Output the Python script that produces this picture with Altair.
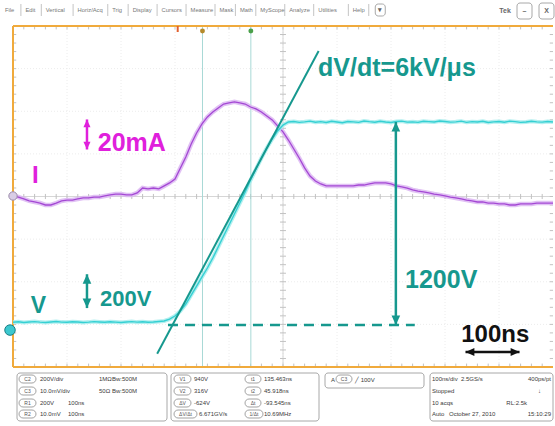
import altair as alt
import pandas as pd

# ----------------------------------------------------------------------
# Waveform record: screen time in ns (100 ns/div, 10 div), one sample / 10 ns
# ----------------------------------------------------------------------
t_ns = list(range(0, 1001, 10))

# drain-source voltage (V)
v_ds = [16, 19, 15, 18, 20, 17, 15, 18, 21, 17,
        16, 19, 18, 15, 17, 20, 18, 16, 19, 17,
        15, 18, 20, 17, 19, 16, 18, 21,
        24, 35, 53, 83, 124, 177, 230, 284, 337, 396,
        461, 526, 591, 656, 721, 786, 857, 922, 987, 1046,
        1099, 1147, 1182, 1200,
        1203, 1198, 1201, 1205, 1199, 1202, 1197, 1204, 1200, 1196,
        1203, 1201, 1198, 1206, 1202, 1199, 1204, 1200, 1197, 1203,
        1205, 1199, 1201, 1198, 1204, 1202, 1200, 1206, 1203, 1199,
        1201, 1205, 1198, 1202, 1200, 1204, 1197, 1201, 1203, 1199,
        1205, 1202, 1198, 1200, 1204, 1201, 1199, 1203, 1200]

# displacement current (mA)
i_d = [0.0, -0.7, -2.0, -3.3, -4.0, -4.7, -6.0, -6.0, -4.7, -3.3,
       -2.7, -2.7, -2.0, -1.3, -1.3, -0.7, -0.7, 0.0, 0.7, 1.3,
       1.3, 0.7, 0.7, 2.0, 5.3, 4.7, 5.3, 4.7, 6.7, 8.7,
       11.3, 18.7, 26.0, 34.7, 42.0, 48.0, 52.7, 56.0, 58.7, 61.3,
       62.0, 62.7, 62.0, 61.3, 59.3, 58.0, 56.0, 53.3, 50.7, 46.7,
       42.7, 37.3, 31.3, 25.3, 18.7, 13.3, 10.0, 8.0, 6.7, 6.7,
       6.7, 6.7, 6.7, 6.7, 7.3, 7.3, 8.0, 8.7, 8.7, 8.7,
       8.0, 6.7, 6.0, 5.3, 4.0, 3.3, 2.7, 2.0, 1.3, 0.7,
       0.0, -0.7, -1.3, -2.0, -2.7, -3.3, -4.0, -4.0, -4.7, -4.7,
       -5.3, -5.3, -6.0, -6.0, -5.3, -5.3, -5.3, -4.7, -4.7, -4.7,
       -4.7]

# trigger and cursor readouts (ns, cursors relative to trigger)
trigger_t = 305.0
cursor_dt = [45.918, 135.463]

# annotation geometry in signal units
slope_t = [267, 566]      # dV/dt guide: 6 V/ns
slope_v = [-170, 1620]
ref0_t = [287, 744]       # 0 V reference, dashed
swing_t = 709             # 1200 V swing
swing_v = [0, 1200]
vscale_t = 137            # 200 V scale bar
vscale_v = [100, 300]
iscale_t = 137            # 20 mA scale bar
iscale_i = [31, 51]
tscale_t = [838, 938]     # 100 ns scale bar
tscale_v = -160

TEAL = "#16988e"
MAGENTA = "#e020dc"
CYAN = "#35d0d3"
PURPLE = "#a448d4"
ORANGE = "#f0aa3c"
FONT = "Liberation Sans"

W, H = 540, 341

x_sc = alt.Scale(domain=[0, 1000], nice=False, zero=False)
d_sc = alt.Scale(domain=[-4, 4], nice=False, zero=False)
v_sc = alt.Scale(domain=[-248.3, 1767.5], nice=False, zero=False)
i_sc = alt.Scale(domain=[-114.0, 113.3], nice=False, zero=False)


def xq(f):
    return alt.X(f, type="quantitative", scale=x_sc, axis=None)


def yq(f, sc):
    return alt.Y(f, type="quantitative", scale=sc, axis=None)


def px(f):
    return alt.X(f, type="quantitative", scale=None, axis=None)


def py(f):
    return alt.Y(f, type="quantitative", scale=None, axis=None)


UP = "M0,0L-0.5,1.1L0.5,1.1Z"
DOWN = "M0,0L-0.5,-1.1L0.5,-1.1Z"
LEFT = "M0,0L1.1,-0.5L1.1,0.5Z"
RIGHT = "M0,0L-1.1,-0.5L-1.1,0.5Z"

# ---------------------------- graticule -------------------------------
g_vert = alt.Chart(pd.DataFrame({"t": [100 * k for k in range(1, 10)]})).mark_rule(
    color="#ececec", strokeWidth=1, strokeDash=[1, 2]).encode(x=xq("t"))
g_horz = alt.Chart(pd.DataFrame({"d": [-3, -2, -1, 1, 2, 3]})).mark_rule(
    color="#ececec", strokeWidth=1, strokeDash=[1, 2]).encode(y=yq("d", d_sc))
g_cx = alt.Chart(pd.DataFrame({"t": [500]})).mark_rule(
    color="#d6d6d6", strokeWidth=1).encode(x=xq("t"))
g_cy = alt.Chart(pd.DataFrame({"d": [0]})).mark_rule(
    color="#d6d6d6", strokeWidth=1).encode(y=yq("d", d_sc))

tick_rows = []
for t in [20 * k for k in range(1, 50)]:
    tick_rows += [(t, t, -0.06, 0.06), (t, t, 3.92, 4.0), (t, t, -4.0, -3.92)]
for d in [round(-4 + 0.2 * k, 1) for k in range(1, 40)]:
    tick_rows += [(494.5, 505.5, d, d), (0, 6, d, d), (994, 1000, d, d)]
ticks = pd.DataFrame(tick_rows, columns=["t0", "t1", "d0", "d1"])
g_ticks = alt.Chart(ticks).mark_rule(color="#c2c2c2", strokeWidth=1).encode(
    x=xq("t0"), x2="t1", y=yq("d0", d_sc), y2="d1")

frame_l = alt.Chart(pd.DataFrame({"t": [0]})).mark_rule(
    color=ORANGE, strokeWidth=2).encode(x=xq("t"))
frame_tb = alt.Chart(pd.DataFrame({"d": [-4, 4]})).mark_rule(
    color=ORANGE, strokeWidth=2).encode(y=yq("d", d_sc))

cur = pd.DataFrame({"t": [trigger_t + dt for dt in cursor_dt],
                    "c": ["#b58a2c", "#4aa04a"]})
cursor_lines = alt.Chart(cur).mark_rule(color="#a8d9d6", strokeWidth=1).encode(x=xq("t"))
cursor_handles = alt.Chart(cur).mark_point(filled=True, size=24, opacity=1).encode(
    x=xq("t"), y=alt.value(5), color=alt.Color("c:N", scale=None))
trig_mark = alt.Chart(pd.DataFrame({"t": [trigger_t]})).mark_rule(
    color="#e2602e", strokeWidth=2).encode(x=xq("t"), y=alt.value(0), y2=alt.value(6))

graticule = alt.layer(g_vert, g_horz, g_cx, g_cy, g_ticks, cursor_lines,
                      frame_l, frame_tb, cursor_handles, trig_mark)

# ---------------------------- traces ----------------------------------
trace = pd.DataFrame({"t": t_ns, "v": v_ds, "i": i_d})

i_halo = alt.Chart(trace).mark_line(color="#dcb6f2", strokeWidth=4.5, opacity=0.85).encode(
    x=xq("t"), y=yq("i", i_sc))
i_core = alt.Chart(trace).mark_line(color=PURPLE, strokeWidth=1.3).encode(
    x=xq("t"), y=yq("i", i_sc))
i_mark = alt.Chart(pd.DataFrame({"t": [0], "i": [0]})).mark_point(
    filled=True, size=70, opacity=1, color="#d9cde6", stroke="#9c8cab", strokeWidth=1).encode(
    x=xq("t"), y=yq("i", i_sc))
i_group = alt.layer(i_halo, i_core, i_mark)

v_halo = alt.Chart(trace).mark_line(color="#a6ecec", strokeWidth=4, opacity=0.85).encode(
    x=xq("t"), y=yq("v", v_sc))
v_core = alt.Chart(trace).mark_line(color=CYAN, strokeWidth=1.4).encode(
    x=xq("t"), y=yq("v", v_sc))
v_mark = alt.Chart(pd.DataFrame({"t": [0], "v": [-30]})).mark_point(
    filled=True, size=110, opacity=1, color="#3cc8cf", stroke="#1b7f86", strokeWidth=1,
    xOffset=-3).encode(x=xq("t"), y=yq("v", v_sc))

# ------------------------- voltage annotations -------------------------
slope = alt.Chart(pd.DataFrame({"t": slope_t, "v": slope_v})).mark_line(
    color=TEAL, strokeWidth=2).encode(x=xq("t"), y=yq("v", v_sc))
ref0 = alt.Chart(pd.DataFrame({"t": ref0_t, "v": [0, 0]})).mark_line(
    color=TEAL, strokeWidth=2.5, strokeDash=[10, 7]).encode(x=xq("t"), y=yq("v", v_sc))

vbars = pd.DataFrame({"t": [swing_t, vscale_t], "v0": [swing_v[0], vscale_v[0]],
                      "v1": [swing_v[1], vscale_v[1]]})
vbar_rule = alt.Chart(vbars).mark_rule(color=TEAL, strokeWidth=2.5).encode(
    x=xq("t"), y=yq("v0", v_sc), y2="v1")
vbar_top = alt.Chart(vbars).mark_point(shape=UP, filled=True, size=300, opacity=1,
                                        color=TEAL).encode(x=xq("t"), y=yq("v1", v_sc))
vbar_bot = alt.Chart(vbars).mark_point(shape=DOWN, filled=True, size=300, opacity=1,
                                        color=TEAL).encode(x=xq("t"), y=yq("v0", v_sc))

tbar = pd.DataFrame({"t0": [tscale_t[0]], "t1": [tscale_t[1]], "v": [tscale_v]})
tbar_rule = alt.Chart(tbar).mark_rule(color="#111111", strokeWidth=2.5).encode(
    x=xq("t0"), x2="t1", y=yq("v", v_sc))
tbar_l = alt.Chart(tbar).mark_point(shape=LEFT, filled=True, size=260, opacity=1,
                                     color="#111111").encode(x=xq("t0"), y=yq("v", v_sc))
tbar_r = alt.Chart(tbar).mark_point(shape=RIGHT, filled=True, size=260, opacity=1,
                                     color="#111111").encode(x=xq("t1"), y=yq("v", v_sc))

v_labels = pd.DataFrame({
    "t": [565, 726, 161, 33, 830],
    "v": [1472, 219, 112, 71, -100],
    "label": ["dV/dt=6kV/\u03bcs", "1200V", "200V", "V", "100ns"],
    "c": [TEAL, TEAL, TEAL, TEAL, "#111111"],
    "fs": [25, 25, 22, 23, 24],
})
v_text = alt.Chart(v_labels).mark_text(font=FONT, fontWeight="bold", align="left",
                                       baseline="alphabetic").encode(
    x=xq("t"), y=yq("v", v_sc), text="label:N",
    color=alt.Color("c:N", scale=None), size=alt.Size("fs:Q", scale=None))

v_group = alt.layer(v_halo, v_core, v_mark, slope, ref0, vbar_rule, vbar_top, vbar_bot,
                    tbar_rule, tbar_l, tbar_r, v_text)

# ------------------------- current annotations -------------------------
ibar = pd.DataFrame({"t": [iscale_t], "i0": [iscale_i[0]], "i1": [iscale_i[1]]})
ibar_rule = alt.Chart(ibar).mark_rule(color=MAGENTA, strokeWidth=2.5).encode(
    x=xq("t"), y=yq("i0", i_sc), y2="i1")
ibar_top = alt.Chart(ibar).mark_point(shape=UP, filled=True, size=200, opacity=1,
                                       color=MAGENTA).encode(x=xq("t"), y=yq("i1", i_sc))
ibar_bot = alt.Chart(ibar).mark_point(shape=DOWN, filled=True, size=200, opacity=1,
                                       color=MAGENTA).encode(x=xq("t"), y=yq("i0", i_sc))
i_labels = pd.DataFrame({"t": [157, 35], "i": [30, 8.7], "label": ["20mA", "I"],
                         "fs": [25, 24]})
i_text = alt.Chart(i_labels).mark_text(font=FONT, fontWeight="bold", align="left",
                                       baseline="alphabetic", color=MAGENTA).encode(
    x=xq("t"), y=yq("i", i_sc), text="label:N", size=alt.Size("fs:Q", scale=None))
i_ann = alt.layer(ibar_rule, ibar_top, ibar_bot, i_text)

# ------------------------- instrument chrome ---------------------------
menu_items = ["File", "Edit", "Vertical", "Horiz/Acq", "Trig", "Display", "Cursors",
              "Measure", "Mask", "Math", "MyScope", "Analyze", "Utilities", "Help"]
mx, sx = [], []
x = -8.0
for lab in menu_items:
    mx.append(x)
    x += len(lab) * 2.85 + 4.5
    sx.append(x)
    x += 4.5
menu_text = alt.Chart(pd.DataFrame({"px": mx, "py": [-16] * len(mx), "label": menu_items})
                      ).mark_text(font=FONT, fontSize=5.8, color="#777777", align="left",
                                  baseline="middle").encode(x=px("px"), y=py("py"), text="label:N")
menu_sep = alt.Chart(pd.DataFrame({"px": sx, "y0": [-22] * len(sx), "y1": [-10] * len(sx)})
                     ).mark_rule(color="#c4c4c4", strokeWidth=1).encode(
    x=px("px"), y=py("y0"), y2="y1")

boxes = pd.DataFrame({
    "x0": [x + 2, 504, 526, 4, 158, 312, 417],
    "x1": [x + 12, 519, 541, 154, 306, 411, 540],
    "y0": [-22, -23, -23, 347, 347, 347, 347],
    "y1": [-10, -7, -7, 395, 395, 362, 395],
})
box_rects = alt.Chart(boxes).mark_rect(fill="white", stroke="#a8a8a8", strokeWidth=1,
                                       cornerRadius=3).encode(
    x=px("x0"), x2="x1", y=py("y0"), y2="y1")

rows_y = [353, 365, 377, 388]
pills = pd.DataFrame({
    "x0": [6] * 4 + [161, 161, 161, 161] + [232] * 4 + [323],
    "x1": [23] * 4 + [178, 178, 178, 184] + [248, 248, 248, 250] + [339],
    "yc": rows_y + rows_y + rows_y + [rows_y[0]],
    "label": ["C2", "C3", "R1", "R2", "V1", "V2", "\u0394V", "\u0394V/\u0394t",
              "t1", "t2", "\u0394t", "1/\u0394t", "C3"],
})
pills["xm"] = (pills["x0"] + pills["x1"]) / 2
pills["ya"] = pills["yc"] - 4
pills["yb"] = pills["yc"] + 4
pill_rects = alt.Chart(pills).mark_rect(fill="white", stroke="#8a8a8a", strokeWidth=0.8,
                                        cornerRadius=4).encode(
    x=px("x0"), x2="x1", y=py("ya"), y2="yb")
pill_text = alt.Chart(pills).mark_text(font=FONT, fontSize=5, color="#555555",
                                       baseline="middle").encode(
    x=px("xm"), y=py("yc"), text="label:N")

info_left = pd.DataFrame({
    "px": [27, 27, 27, 27, 55, 55, 86, 86, 99, 99,
           181, 181, 181, 186, 251, 251, 251, 251,
           318, 342,
           419, 448, 419, 419, 419, 436],
    "py": [353, 365, 377, 388, 377, 388, 353, 365, 353, 365,
           353, 365, 377, 388, 353, 365, 377, 388,
           354, 354,
           353, 353, 365, 377, 388, 388],
    "label": ["200V/div", "10.0mV/div", "200V", "10.0mV", "100ns", "100ns",
              "1M\u03a9", "50\u03a9", "Bw:500M", "Bw:500M",
              "940V", "316V", "-624V", "6.671GV/s",
              "135.463ns", "45.918ns", "-93.545ns", "10.69MHz",
              "A", "\u2571 100V",
              "100ns/div", "2.5GS/s", "Stopped", "10 acqs", "Auto", "October 27, 2010"],
})
info_text_l = alt.Chart(info_left).mark_text(font=FONT, fontSize=6, color="#3a3a3a",
                                             align="left", baseline="middle").encode(
    x=px("px"), y=py("py"), text="label:N")
info_right = pd.DataFrame({
    "px": [538, 514, 538, 528],
    "py": [353, 377, 388, 365],
    "label": ["400ps/pt", "RL:2.5k", "15:10:29", "\u2193"],
})
info_text_r = alt.Chart(info_right).mark_text(font=FONT, fontSize=6, color="#3a3a3a",
                                              align="right", baseline="middle").encode(
    x=px("px"), y=py("py"), text="label:N")

corner = pd.DataFrame({"px": [x + 7, 492, 511.5, 533.5], "py": [-16, -15, -15, -15],
                       "label": ["\u25be", "Tek", "\u2013", "X"]})
corner_text = alt.Chart(corner).mark_text(font=FONT, fontSize=7, color="#666666",
                                          fontWeight="bold", baseline="middle").encode(
    x=px("px"), y=py("py"), text="label:N")

chrome = alt.layer(menu_sep, menu_text, box_rects, pill_rects, pill_text,
                   info_text_l, info_text_r, corner_text)

chart = alt.layer(graticule, i_group, v_group, i_ann, chrome).resolve_scale(
    y="independent"
).properties(
    width=W, height=H,
    padding={"left": 13, "top": 26, "right": 2, "bottom": 59},
    autosize="none",
    background="white",
).configure_view(stroke=None)

chart.save("out.html", embed_options={"renderer": "svg", "actions": False})
